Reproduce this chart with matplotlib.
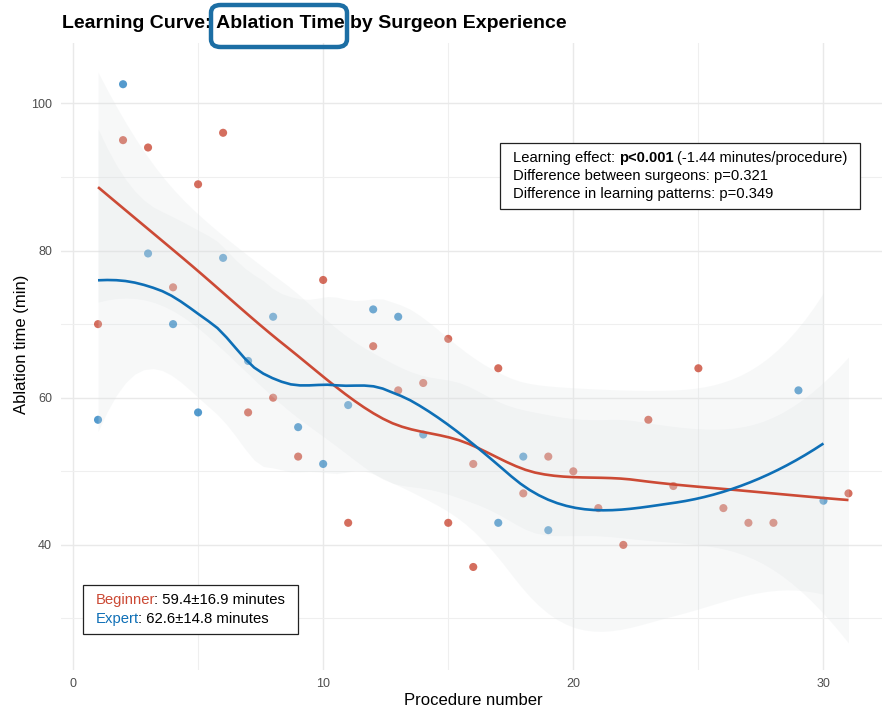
import numpy as np
import matplotlib
matplotlib.use("Agg")
import matplotlib.pyplot as plt
from matplotlib.offsetbox import TextArea, HPacker, VPacker, AnchoredOffsetbox, DrawingArea
from matplotlib.patches import FancyBboxPatch

plt.rcParams["font.family"] = ["Liberation Sans", "DejaVu Sans"]

# ---- data -------------------------------------------------------------
beginner_proc = [1, 2, 3, 4, 5, 6, 7, 8, 9, 10, 11, 12, 13, 14, 15, 15, 16, 16,
                 17, 18, 19, 20, 21, 22, 23, 24, 25, 26, 27, 28, 31]
beginner_time = [70, 95, 94, 75, 89, 96, 58, 60, 52, 76, 43, 67, 61, 62, 68, 43, 51, 37,
                 64, 47, 52, 50, 45, 40, 57, 48, 64, 45, 43, 43, 47]
expert_proc = [1, 2, 3, 4, 5, 6, 7, 8, 9, 10, 11, 12, 13, 14, 17, 18, 19, 29, 30]
expert_time = [57, 102.6, 79.6, 70, 58, 79, 65, 71, 56, 51, 59, 72, 71, 55, 43, 52, 42, 61, 46]

groups = ["Beginner", "Expert"]
stats_lines = [("Learning effect:", "p<0.001", "(-1.44 minutes/procedure)"),
               ("Difference between surgeons: p=0.321",),
               ("Difference in learning patterns: p=0.349",)]

title = "Learning Curve: Ablation Time by Surgeon Experience"

RED_LINE, BLUE_LINE = "#cc4a35", "#0e6fb6"
RED_PT, BLUE_PT = "#c63d28", "#1274ba"


# ---- loess (degree 2, span 0.75) with kd-tree vertex interpolation ----
def local_rows(x, x0, q):
    n = len(x)
    d = np.abs(x - x0)
    h = np.sort(d)[q - 1]
    w = np.clip(1 - (d / h) ** 3, 0, None) ** 3
    X = np.column_stack([np.ones(n), x - x0, (x - x0) ** 2])
    XtW = X.T * w
    A = np.linalg.solve(XtW @ X, XtW)
    return A[0], A[1]          # value row, slope row


def kd_vertices(x, fc):
    xs = np.sort(x)
    margin = 0.005 * (xs[-1] - xs[0])
    verts = {xs[0] - margin, xs[-1] + margin}

    def split(pts):
        if len(pts) <= fc:
            return
        m = (len(pts) - 1) // 2
        v = 0.5 * (pts[m] + pts[m + 1])
        if v <= pts[0] or v >= pts[-1]:
            return
        verts.add(v)
        split(pts[pts <= v])
        split(pts[pts > v])

    split(xs)
    return np.array(sorted(verts))


def loess_operator(x, xe, span=0.75, cell=0.2):
    x = np.asarray(x, float)
    n = len(x)
    q = int(np.floor(n * span))
    fc = int(np.floor(n * span * cell))
    vx = kd_vertices(x, fc)
    vals, slopes = zip(*(local_rows(x, v, q) for v in vx))
    vals, slopes = np.array(vals), np.array(slopes)
    rows = []
    for x0 in xe:
        j = np.clip(np.searchsorted(vx, x0) - 1, 0, len(vx) - 2)
        a, b = vx[j], vx[j + 1]
        hh = b - a
        t = (x0 - a) / hh
        h00 = 2 * t ** 3 - 3 * t ** 2 + 1
        h10 = t ** 3 - 2 * t ** 2 + t
        h01 = -2 * t ** 3 + 3 * t ** 2
        h11 = t ** 3 - t ** 2
        rows.append(h00 * vals[j] + h10 * hh * slopes[j]
                    + h01 * vals[j + 1] + h11 * hh * slopes[j + 1])
    return np.array(rows)


def t_quantile(df):
    z = 1.959963984540054
    g1 = (z ** 3 + z) / 4
    g2 = (5 * z ** 5 + 16 * z ** 3 + 3 * z) / 96
    g3 = (3 * z ** 7 + 19 * z ** 5 + 17 * z ** 3 - 15 * z) / 384
    g4 = (79 * z ** 9 + 776 * z ** 7 + 1482 * z ** 5 - 1920 * z ** 3 - 945 * z) / 92160
    return z + g1 / df + g2 / df ** 2 + g3 / df ** 3 + g4 / df ** 4


def loess_band(x, y, num=80):
    x = np.asarray(x, float)
    y = np.asarray(y, float)
    xe = np.linspace(x.min(), x.max(), num)
    L_data = loess_operator(x, x)
    L_eval = loess_operator(x, xe)
    resid = y - L_data @ y
    IL = np.eye(len(x)) - L_data
    M = IL.T @ IL
    one_delta = np.trace(M)
    two_delta = np.trace(M @ M)
    sigma = np.sqrt(np.sum(resid ** 2) / one_delta)
    fit = L_eval @ y
    se = sigma * np.sqrt(np.sum(L_eval ** 2, axis=1))
    t = t_quantile(one_delta ** 2 / two_delta)
    return xe, fit, fit - t * se, fit + t * se


# ---- figure -------------------------------------------------------------
W, H = 882, 709
fig = plt.figure(figsize=(W / 100, H / 100), dpi=100)
ax = fig.add_axes([60.5 / W, 1 - 670 / H, (886 - 60.5) / W, (670 - 43) / H])

ax.scatter(beginner_proc, beginner_time, s=34, color=RED_PT, alpha=0.75,
           edgecolor="none", zorder=2)
ax.scatter(expert_proc, expert_time, s=34, color=BLUE_PT, alpha=0.72,
           edgecolor="none", zorder=2)

fits = [loess_band(beginner_proc, beginner_time),
        loess_band(expert_proc, expert_time)]

for xe, fit, lo, hi in fits:
    ax.fill_between(xe, lo, hi, color="#dce1e2", alpha=0.21, linewidth=0, zorder=3)
for (xe, fit, lo, hi), col in zip(fits, (RED_LINE, BLUE_LINE)):
    ax.plot(xe, fit, color=col, linewidth=1.9, zorder=4, solid_capstyle="butt")

ax.set_xlim(-0.5, 32.5)
ax.set_ylim(23, 108.2)
ax.set_xticks([0, 10, 20, 30])
ax.set_xticks([5, 15, 25], minor=True)
ax.set_yticks([40, 60, 80, 100])
ax.set_yticks([30, 50, 70, 90], minor=True)
ax.grid(True, which="major", color="#e9e9e9", linewidth=1.0, zorder=0)
ax.grid(True, which="minor", color="#efefef", linewidth=0.8, zorder=0)
ax.set_axisbelow(True)
for sp in ax.spines.values():
    sp.set_visible(False)
ax.tick_params(which="both", length=0, labelsize=9, labelcolor="#4d4d4d", pad=6)
ax.set_xlabel("Procedure number", fontsize=12, labelpad=2)
ax.set_ylabel("Ablation time (min)", fontsize=12)
ax.yaxis.set_label_coords(-0.038, 0.52)

# title and highlight frame
fig.text(62 / W, 1 - 24 / H, title, fontsize=14, fontweight="bold",
         ha="left", va="center")
hl = FancyBboxPatch((211 / W, 1 - 47 / H), 136 / W, 42 / H,
                    boxstyle="round,pad=0,rounding_size=0.011",
                    transform=fig.transFigure, facecolor="none",
                    edgecolor="#1c6ea4", linewidth=3.2, zorder=10)
fig.add_artist(hl)


def framed_box(rows, sep, pad, hspace, anchor_px):
    body = VPacker(children=rows, pad=0, sep=sep, align="left")
    inner = HPacker(children=[DrawingArea(hspace, 1), body, DrawingArea(hspace, 1)],
                    pad=0, sep=0, align="center")
    b = AnchoredOffsetbox(loc="upper left", child=inner, pad=pad, borderpad=0,
                          frameon=True,
                          bbox_to_anchor=(anchor_px[0] / W, 1 - anchor_px[1] / H),
                          bbox_transform=fig.transFigure)
    b.patch.set_boxstyle("square,pad=0")
    b.patch.set_edgecolor("#222222")
    b.patch.set_linewidth(0.9)
    fig.add_artist(b)
    return b


# statistics box
tp = dict(fontsize=10.6, color="black")
line1 = HPacker(children=[TextArea(stats_lines[0][0], textprops=tp),
                          TextArea(stats_lines[0][1], textprops=dict(tp, fontweight="bold")),
                          TextArea(stats_lines[0][2], textprops=tp)],
                pad=0, sep=2.9, align="baseline")
framed_box([line1, TextArea(stats_lines[1][0], textprops=tp),
            TextArea(stats_lines[2][0], textprops=tp)],
           sep=3.1, pad=0.55, hspace=3.6, anchor_px=(500, 143))

# group summary box
tp2 = dict(fontsize=10.7, color="black")
summary_rows = []
for name, vals, col in zip(groups, (beginner_time, expert_time), (RED_LINE, BLUE_LINE)):
    v = np.asarray(vals, float)
    txt = f": {v.mean():.1f}\u00b1{v.std(ddof=1):.1f} minutes"
    summary_rows.append(HPacker(children=[TextArea(name, textprops=dict(tp2, color=col)),
                                          TextArea(txt, textprops=tp2)],
                                pad=0, sep=-0.6, align="baseline"))
framed_box(summary_rows, sep=3.8, pad=0.55, hspace=3.5, anchor_px=(83, 585))

fig.savefig("out.png", dpi=100)
